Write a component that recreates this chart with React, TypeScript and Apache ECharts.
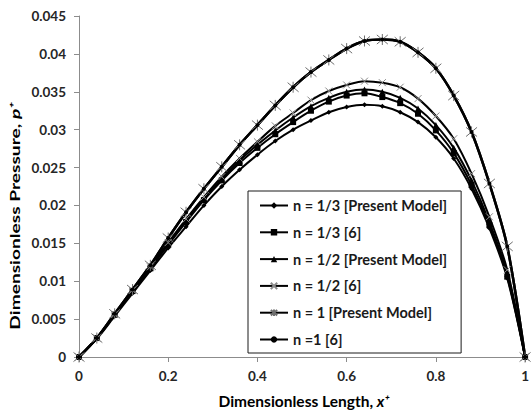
import React, { useEffect, useRef } from "react";
import * as echarts from "echarts";

const xValues = [0, 0.04, 0.08, 0.12, 0.16, 0.2, 0.24, 0.28, 0.32, 0.36, 0.4, 0.44, 0.48, 0.52, 0.56, 0.6, 0.64, 0.68, 0.72, 0.76, 0.8, 0.84, 0.88, 0.92, 0.96, 1];

const n13Present = [0, 0.0024, 0.0054, 0.0084, 0.0114, 0.0144, 0.0172, 0.02, 0.0225, 0.0247, 0.0267, 0.0285, 0.03, 0.0312, 0.0323, 0.033, 0.0333, 0.0331, 0.0323, 0.031, 0.029, 0.0262, 0.0222, 0.017, 0.0104, 0];
const n13Ref = [0, 0.0025, 0.0056, 0.0087, 0.0117, 0.0148, 0.0178, 0.0207, 0.0233, 0.0256, 0.0276, 0.0294, 0.031, 0.0325, 0.0337, 0.0345, 0.0348, 0.0343, 0.0335, 0.0321, 0.0299, 0.0269, 0.0227, 0.0174, 0.0106, 0];
const n12Present = [0, 0.0025, 0.0056, 0.0088, 0.0118, 0.015, 0.018, 0.0209, 0.0235, 0.0259, 0.028, 0.0299, 0.0316, 0.0331, 0.0342, 0.035, 0.0353, 0.035, 0.0342, 0.0328, 0.0306, 0.0276, 0.0233, 0.0178, 0.011, 0];
const n12Ref = [0, 0.0025, 0.0056, 0.0088, 0.0119, 0.0151, 0.0182, 0.0211, 0.0238, 0.0262, 0.0284, 0.0305, 0.0322, 0.0339, 0.0351, 0.0359, 0.0364, 0.0362, 0.0356, 0.0341, 0.0318, 0.0288, 0.0242, 0.0185, 0.0115, 0];
const n1Present = [0, 0.0025, 0.0057, 0.0089, 0.0121, 0.0157, 0.0191, 0.0222, 0.0251, 0.028, 0.0306, 0.0332, 0.0356, 0.0376, 0.0392, 0.0407, 0.0417, 0.0419, 0.0416, 0.0402, 0.0381, 0.0345, 0.0297, 0.0229, 0.0146, 0];
const n1Ref = [0, 0.0025, 0.0057, 0.0089, 0.0121, 0.0157, 0.0191, 0.0222, 0.0251, 0.028, 0.0306, 0.0332, 0.0356, 0.0376, 0.0392, 0.0407, 0.0417, 0.0419, 0.0416, 0.0402, 0.0381, 0.0345, 0.0297, 0.0229, 0.0146, 0];

const seriesNames = [
  "n = 1/3 [Present Model]",
  "n = 1/3 [6]",
  "n = 1/2 [Present Model]",
  "n = 1/2 [6]",
  "n = 1 [Present Model]",
  "n =1 [6]",
];

const xTitle = "Dimensionless Length, ";
const yTitle = "Dimensionless Pressure, ";

const FONT = "Lato, 'Open Sans', 'DejaVu Sans', sans-serif";

const pairs = (ys: number[]) => xValues.map((x, i) => [x, ys[i]]);

export default function App() {
  const ref = useRef<HTMLDivElement>(null);

  useEffect(() => {
    if (!ref.current) return;
    const chart = echarts.init(ref.current, undefined, { renderer: "svg" });

    const base = (name: string, ys: number[], extra: any) => ({
      type: "line",
      name,
      data: pairs(ys),
      smooth: 0.3,
      showSymbol: true,
      lineStyle: { color: "#000", width: 2 },
      ...extra,
    });

    const series = [
      base(seriesNames[0], n13Present, {
        symbol: "diamond",
        symbolSize: 5,
        itemStyle: { color: "#000" },
      }),
      base(seriesNames[1], n13Ref, {
        symbol: "rect",
        symbolSize: 6,
        itemStyle: { color: "#000" },
      }),
      base(seriesNames[2], n12Present, {
        symbol: "triangle",
        symbolSize: 6,
        itemStyle: { color: "#000" },
      }),
      base(seriesNames[3], n12Ref, {
        symbol: "path://M0,0L10,10M10,0L0,10",
        symbolSize: 7,
        itemStyle: { color: "none", borderColor: "#8a8a8a", borderWidth: 1 },
      }),
      base(seriesNames[4], n1Present, {
        symbol: "path://M0,0L10,10M10,0L0,10M5,-1L5,11",
        symbolSize: 11,
        lineStyle: { color: "#000", width: 2.5 },
        itemStyle: { color: "none", borderColor: "#6e6e6e", borderWidth: 1 },
      }),
      base(seriesNames[5], n1Ref, {
        symbol: "circle",
        symbolSize: 4,
        lineStyle: { color: "#000", width: 2.5 },
        itemStyle: { color: "#000" },
      }),
    ];

    const axisLabel = {
      fontFamily: FONT,
      fontWeight: "bold",
      fontSize: 13.5,
      color: "#262626",
    };

    chart.setOption({
      animation: false,
      backgroundColor: "#fff",
      grid: { left: 79, right: 3, top: 16, bottom: 55, containLabel: false },
      xAxis: {
        type: "value",
        min: 0,
        max: 1,
        interval: 0.2,
        axisLine: { show: true, lineStyle: { color: "#8c8c8c", width: 1 } },
        axisTick: { show: true, inside: false, length: 5, lineStyle: { color: "#8c8c8c" } },
        splitLine: { show: false },
        axisLabel: { ...axisLabel, margin: 12 },
      },
      yAxis: {
        type: "value",
        min: 0,
        max: 0.045,
        interval: 0.005,
        axisLine: { show: true, lineStyle: { color: "#8c8c8c", width: 1 } },
        axisTick: { show: true, inside: false, length: 5, lineStyle: { color: "#8c8c8c" } },
        splitLine: { show: false },
        axisLabel: { ...axisLabel, margin: 13 },
      },
      legend: {
        orient: "vertical",
        left: 248,
        top: 191,
        padding: [7, 14, 6, 11],
        itemGap: 11.8,
        itemWidth: 28,
        itemHeight: 8,
        backgroundColor: "#fff",
        borderColor: "#1a1a1a",
        borderWidth: 1,
        borderRadius: 0,
        textStyle: {
          fontFamily: FONT,
          fontWeight: "bold",
          fontSize: 14.5,
          lineHeight: 14,
          color: "#1a1a1a",
        },
        data: seriesNames,
      },
      graphic: [
        {
          type: "text",
          x: 304,
          y: 401,
          style: {
            text: "{a|" + xTitle + "}{i|x⁺}",
            align: "center",
            verticalAlign: "middle",
            rich: {
              a: { fontFamily: FONT, fontWeight: "bold", fontSize: 15.5, fill: "#000" },
              i: { fontFamily: FONT, fontWeight: "bold", fontStyle: "italic", fontSize: 15.5, fill: "#000" },
            },
          },
        },
        {
          type: "text",
          x: 15,
          y: 216,
          rotation: Math.PI / 2,
          scaleX: 1.42,
          style: {
            text: "{a|" + yTitle + "}{i|p⁺}",
            align: "center",
            verticalAlign: "middle",
            rich: {
              a: { fontFamily: FONT, fontWeight: "bold", fontSize: 13.5, fill: "#000" },
              i: { fontFamily: FONT, fontWeight: "bold", fontStyle: "italic", fontSize: 13.5, fill: "#000" },
            },
          },
        },
      ],
      series,
    });

    return () => {
      chart.dispose();
    };
  }, []);

  return (
    <div
      ref={ref}
      style={{ position: "fixed", left: 0, top: 0, width: 532, height: 412, background: "#fff" }}
    />
  );
}
